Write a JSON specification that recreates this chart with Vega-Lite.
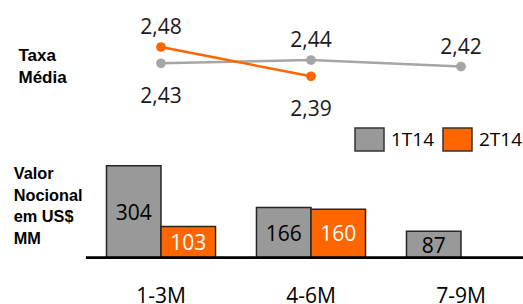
{
  "$schema": "https://vega.github.io/schema/vega-lite/v6.json",
  "width": 437,
  "height": 304,
  "autosize": {"type": "none"},
  "padding": {"left": 86, "top": 0, "right": 0, "bottom": 0},
  "background": "white",
  "config": {
    "view": {"stroke": null},
    "locale": {"number": {"decimal": ",", "thousands": ".", "grouping": [3], "currency": ["R$", ""]}},
    "text": {"font": "Open Sans", "fontSize": 21}
  },
  "datasets": {
    "bars": [
      {"c": "1-3M", "s": "1T14", "v": 304},
      {"c": "1-3M", "s": "2T14", "v": 103},
      {"c": "4-6M", "s": "1T14", "v": 166},
      {"c": "4-6M", "s": "2T14", "v": 160},
      {"c": "7-9M", "s": "1T14", "v": 87}
    ],
    "rates": [
      {"c": "1-3M", "s": "1T14", "r": 2.43},
      {"c": "4-6M", "s": "1T14", "r": 2.44},
      {"c": "7-9M", "s": "1T14", "r": 2.42},
      {"c": "1-3M", "s": "2T14", "r": 2.48},
      {"c": "4-6M", "s": "2T14", "r": 2.39}
    ]
  },
  "layer": [
    {
      "data": {"name": "bars"},
      "encoding": {
        "x": {
          "field": "c", "type": "nominal", "sort": ["1-3M", "4-6M", "7-9M"],
          "scale": {"domain": ["1-3M", "4-6M", "7-9M"], "range": [0, 450], "paddingInner": 0.273, "paddingOuter": 0.1365},
          "axis": {"title": null, "domain": false, "ticks": false, "labelAngle": 0, "labelBaseline": "alphabetic", "labelPadding": -2, "labelFont": "Open Sans", "labelFontSize": 21, "labelColor": "#000000"}
        },
        "xOffset": {"field": "s", "type": "nominal", "scale": {"domain": ["1T14", "2T14"], "paddingInner": 0, "paddingOuter": 0}},
        "y": {
          "field": "v", "type": "quantitative",
          "scale": {"domain": [0, 304], "range": [257.7, 165.7], "nice": false},
          "axis": {"orient": "right", "labels": false, "ticks": false, "domain": false, "grid": false,
            "title": ["Valor", "Nocional", "em US$", "MM"], "titleAngle": 0, "titleAlign": "left", "titleBaseline": "alphabetic",
            "titleX": -509.7, "titleY": 178.5, "titleLineHeight": 21.5, "titleFont": "Liberation Sans", "titleFontSize": 16.3, "titleFontWeight": "bold", "titleColor": "#000000"}
        }
      },
      "layer": [
        {
          "mark": {"type": "bar", "stroke": "#262626", "strokeWidth": 1.5},
          "encoding": {
            "color": {
              "field": "s", "type": "nominal",
              "scale": {"domain": ["1T14", "2T14"], "range": ["#999999", "#FF6600"]},
              "legend": {
                "title": null, "orient": "none", "direction": "horizontal", "legendX": 268, "legendY": 124,
                "padding": 0, "symbolType": "M-1,-0.793H1V0.793H-1Z", "symbolSize": 841,
                "symbolStrokeColor": "#333333", "symbolStrokeWidth": 1.5, "symbolOpacity": 1,
                "labelFont": "Open Sans", "labelFontSize": 19, "labelColor": "#000000", "labelOffset": 6, "columnPadding": 5
              }
            }
          }
        },
        {
          "mark": {"type": "rule", "color": "#000000", "strokeWidth": 2},
          "encoding": {"y": {"datum": 0}, "x": null, "xOffset": null}
        }
      ]
    },
    {
      "data": {"name": "bars"},
      "mark": {"type": "text", "baseline": "middle", "dy": 2},
      "encoding": {
        "x": {"field": "c", "type": "nominal", "sort": ["1-3M", "4-6M", "7-9M"]},
        "xOffset": {"field": "s", "type": "nominal"},
        "y": {"field": "v", "type": "quantitative", "scale": {"domain": [0, 304], "range": [257.7, 211.7], "nice": false}, "axis": null},
        "text": {"field": "v", "type": "quantitative"},
        "color": {"condition": {"test": "datum.s == '2T14'", "value": "#FFFFFF"}, "value": "#000000"}
      }
    },
    {
      "data": {"name": "rates"},
      "encoding": {
        "x": {"field": "c", "type": "nominal", "sort": ["1-3M", "4-6M", "7-9M"]},
        "y": {
          "field": "r", "type": "quantitative",
          "scale": {"domain": [2.39, 2.48], "range": [76.3, 47], "nice": false, "zero": false},
          "axis": {"orient": "left", "labels": false, "ticks": false, "domain": false, "grid": false,
            "title": ["Taxa", "Média"], "titleAngle": 0, "titleAlign": "left", "titleBaseline": "alphabetic",
            "titleX": -68, "titleY": 60.7, "titleLineHeight": 22, "titleFont": "Liberation Sans", "titleFontSize": 17, "titleFontWeight": "bold", "titleColor": "#000000"}
        },
        "color": {"condition": {"test": "datum.s == '2T14'", "value": "#FF6600"}, "value": "#A6A6A6"}
      },
      "layer": [
        {
          "mark": {"type": "line", "strokeWidth": 2.5},
          "encoding": {"detail": {"field": "s", "type": "nominal"}}
        },
        {
          "mark": {"type": "point", "filled": true, "size": 95, "opacity": 1}
        },
        {
          "transform": [{"filter": "datum.s == '2T14' ? datum.c == '1-3M' : datum.c != '1-3M'"}],
          "mark": {"type": "text", "baseline": "middle", "dy": -19},
          "encoding": {"text": {"field": "r", "type": "quantitative", "format": ".2f"}, "color": {"value": "#1A1A1A"}}
        },
        {
          "transform": [{"filter": "datum.s == '2T14' ? datum.c != '1-3M' : datum.c == '1-3M'"}],
          "mark": {"type": "text", "baseline": "middle", "dy": 34},
          "encoding": {"text": {"field": "r", "type": "quantitative", "format": ".2f"}, "color": {"value": "#1A1A1A"}}
        }
      ]
    }
  ],
  "resolve": {"scale": {"y": "independent"}, "axis": {"y": "independent"}}
}
